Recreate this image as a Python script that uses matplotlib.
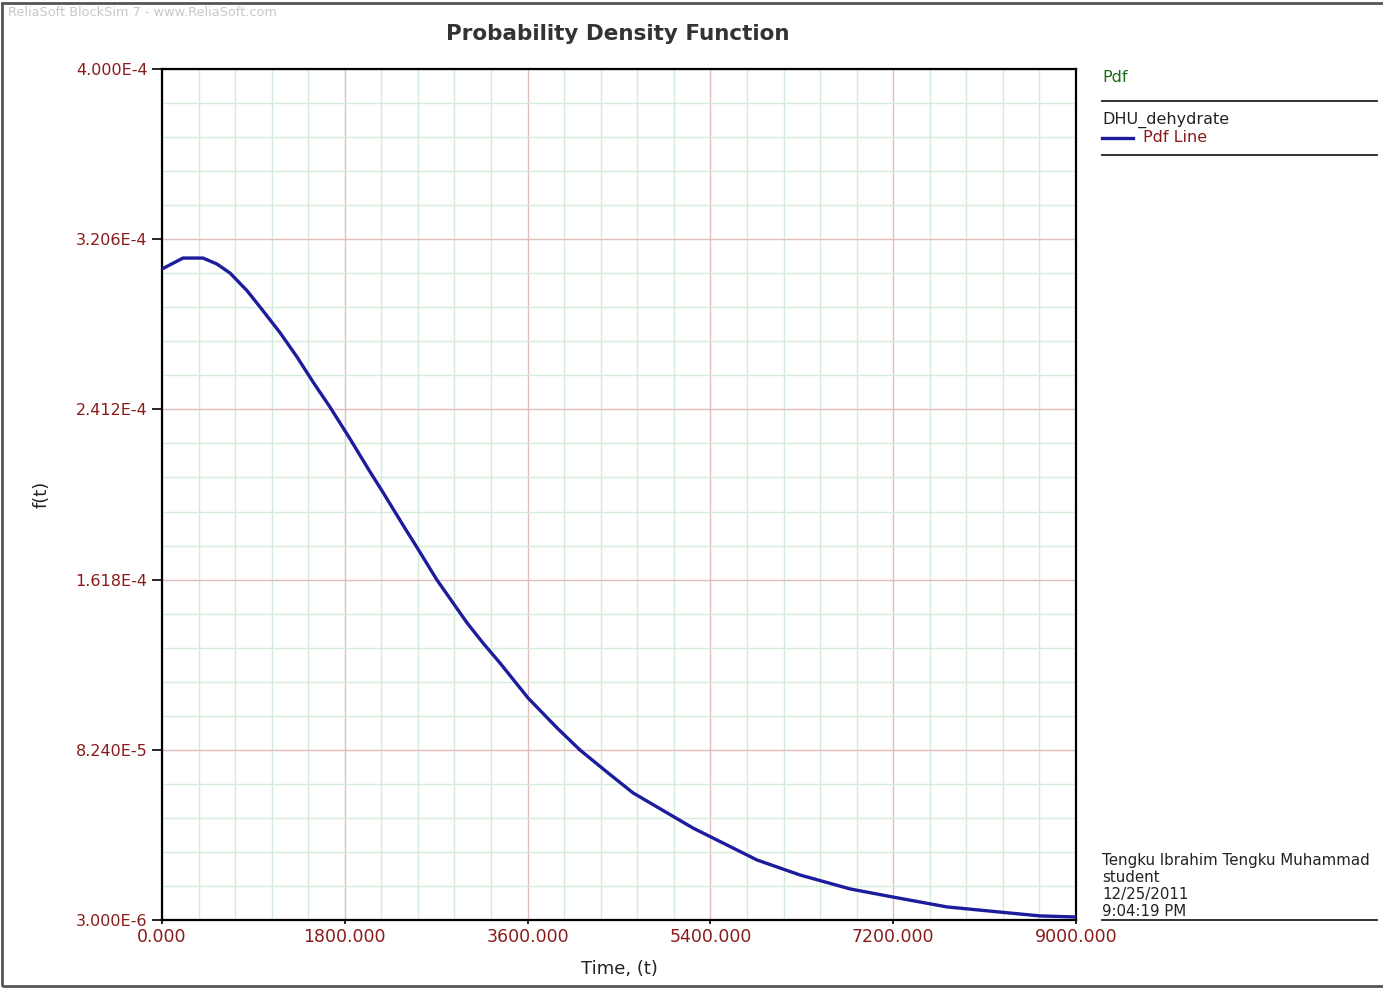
import numpy as np
import matplotlib.pyplot as plt
from matplotlib.ticker import AutoMinorLocator
from matplotlib.lines import Line2D
from matplotlib.patches import Rectangle

# curve
time = [0, 207, 404, 542, 670, 837, 965, 1162, 1329, 1487, 1654, 1851, 2048,
        2176, 2393, 2511, 2708, 3004, 3161, 3328, 3604, 3890, 4116, 4382, 4638,
        5229, 5859, 6282, 6775, 7199, 7730, 8252, 8646, 9000]
pdf = [3.067e-4, 3.118e-4, 3.118e-4, 3.090e-4, 3.048e-4, 2.966e-4, 2.890e-4,
       2.770e-4, 2.657e-4, 2.540e-4, 2.423e-4, 2.275e-4, 2.121e-4, 2.025e-4,
       1.857e-4, 1.768e-4, 1.616e-4, 1.416e-4, 1.322e-4, 1.229e-4, 1.066e-4,
       9.26e-5, 8.23e-5, 7.20e-5, 6.23e-5, 4.59e-5, 3.10e-5, 2.40e-5, 1.75e-5,
       1.37e-5, 9.1e-6, 6.7e-6, 4.9e-6, 4.4e-6]

xticks = [0, 1800, 3600, 5400, 7200, 9000]
xlabels = ['0.000', '1800.000', '3600.000', '5400.000', '7200.000', '9000.000']
yticks = [3.0e-6, 8.24e-5, 1.618e-4, 2.412e-4, 3.206e-4, 4.0e-4]
ylabels = ['3.000E-6', '8.240E-5', '1.618E-4', '2.412E-4', '3.206E-4', '4.000E-4']

info_lines = ['Tengku Ibrahim Tengku Muhammad', 'student', '12/25/2011', '9:04:19 PM']

tick_red = '#8b1a1a'
line_blue = '#1c1c9c'

fig = plt.figure(figsize=(13.83, 9.88), dpi=100)
W, H = 1383, 988

def fx(px):
    return px / W

def fy(py):
    return 1 - py / H

ax = fig.add_axes([fx(162), fy(920), fx(1076) - fx(162), fy(69) - fy(920)])
ax.plot(time, pdf, color=line_blue, lw=2.4, zorder=3, solid_joinstyle='round')

ax.set_xlim(0, 9000)
ax.set_ylim(3.0e-6, 4.0e-4)
ax.set_xticks(xticks)
ax.set_xticklabels(xlabels)
ax.set_yticks(yticks)
ax.set_yticklabels(ylabels)
ax.xaxis.set_minor_locator(AutoMinorLocator(5))
ax.yaxis.set_minor_locator(AutoMinorLocator(5))
ax.grid(which='major', color='#e3bcbc', lw=1.0)
ax.grid(which='minor', color='#d6ecd8', lw=1.0)
ax.set_axisbelow(True)

ax.tick_params(axis='both', which='major', colors='black', labelcolor=tick_red,
               labelsize=11.5, length=7, width=1.2, direction='out')
ax.tick_params(axis='x', which='major', length=3, pad=3, labelsize=12.5)
ax.tick_params(which='minor', length=0)
for s in ax.spines.values():
    s.set_color('black')
    s.set_linewidth(1.6)

ax.set_xlabel('Time, (t)', fontsize=13, color='#222222', labelpad=10)
ax.set_ylabel('f(t)', fontsize=13, color='#222222')
ax.yaxis.set_label_coords(-0.122, 0.5)

fig.text(0.447, fy(34), 'Probability Density Function', fontsize=15.5,
         fontweight='bold', color='#333333', ha='center', va='center')
fig.text(fx(8), fy(13), 'ReliaSoft BlockSim 7 - www.ReliaSoft.com', fontsize=9.3,
         color='#c8c8c8', ha='left', va='center')

# legend panel on the right
fig.text(fx(1102), fy(78), 'Pdf', fontsize=11.5, color='#1a6b1a', va='center')
fig.add_artist(Line2D([fx(1102), fx(1377)], [fy(101), fy(101)], color='#222222', lw=1.3))
fig.text(fx(1102), fy(120), 'DHU_dehydrate', fontsize=11.5, color='#222222', va='center')
fig.add_artist(Line2D([fx(1102), fx(1133)], [fy(138), fy(138)], color=line_blue, lw=2.4))
fig.text(fx(1143), fy(137), 'Pdf Line', fontsize=11.5, color=tick_red, va='center')
fig.add_artist(Line2D([fx(1102), fx(1377)], [fy(155), fy(155)], color='#222222', lw=1.3))

for i, line in enumerate(info_lines):
    fig.text(fx(1102), fy(860 + i * 17.3), line, fontsize=10.8, color='#222222', va='center')
fig.add_artist(Line2D([fx(1102), fx(1377)], [fy(920), fy(920)], color='#222222', lw=1.3))

# outer window border
fig.add_artist(Rectangle((fx(2), fy(986)), fx(1390) - fx(2), fy(3) - fy(986),
                         fill=False, edgecolor='#555555', lw=2.0))

fig.savefig('out.png', dpi=100)
